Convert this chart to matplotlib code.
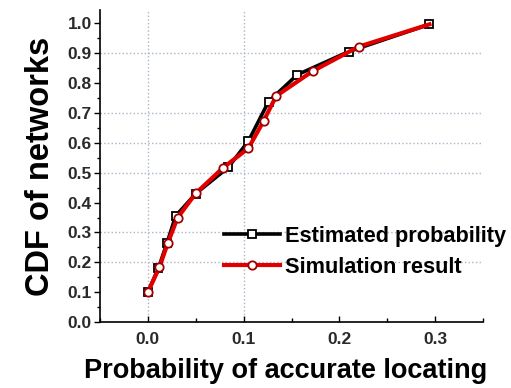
import matplotlib
matplotlib.use("Agg")
import matplotlib.pyplot as plt
from matplotlib.ticker import MultipleLocator

plt.rcParams['font.family'] = ['Liberation Sans', 'DejaVu Sans']

est_x = [0.0, 0.011, 0.020, 0.029, 0.050, 0.084, 0.105, 0.126, 0.156, 0.210, 0.294]
est_y = [0.10, 0.18, 0.265, 0.355, 0.43, 0.518, 0.606, 0.738, 0.828, 0.906, 0.997]

sim_x = [0.0, 0.012, 0.021, 0.031, 0.050, 0.078, 0.105, 0.121, 0.134, 0.172, 0.220, 0.294]
sim_y = [0.10, 0.183, 0.266, 0.349, 0.431, 0.515, 0.582, 0.674, 0.757, 0.840, 0.922, 0.997]

xticks = [0.0, 0.1, 0.2, 0.3]
yticks = [0.0, 0.1, 0.2, 0.3, 0.4, 0.5, 0.6, 0.7, 0.8, 0.9, 1.0]
hgrid = [0.2, 0.3, 0.5, 0.6, 0.7, 0.9]
vgrid = [0.0, 0.1]

fig = plt.figure(figsize=(5.11, 3.88), dpi=100)
ax = fig.add_axes([100/511, 66/388, 383/511, 312/388])

for g in hgrid:
    ax.axhline(g, color='#a9b4c8', ls=':', lw=1.0, zorder=0)
for g in vgrid:
    ax.axvline(g, color='#a9b4c8', ls=':', lw=1.0, zorder=0)

ax.plot(est_x, est_y, color='black', lw=2.6, marker='s', ms=6,
        mfc='white', mec='black', mew=1.3, label='Estimated probability', zorder=2)
ax.plot(sim_x, sim_y, color='#e00000', lw=3.0, marker='o', ms=6,
        mfc='white', mec='#a00000', mew=1.3, markevery=list(range(len(sim_x) - 1)),
        label='Simulation result', zorder=3)

ax.set_xlim(-0.05, 0.35)
ax.set_ylim(0.0, 1.045)
ax.set_xticks(xticks)
ax.set_yticks(yticks)
ax.set_xticklabels([f"{v:.1f}" for v in xticks])
ax.set_yticklabels([f"{v:.1f}" for v in yticks])
ax.xaxis.set_minor_locator(MultipleLocator(0.05))
ax.yaxis.set_minor_locator(MultipleLocator(0.05))
ax.tick_params(axis='both', which='major', direction='out', length=4, width=1,
               labelsize=12.5, pad=2)
ax.tick_params(axis='x', which='major', direction='in', length=4, pad=7)
ax.tick_params(axis='x', which='minor', direction='in', length=3, width=1)
ax.tick_params(axis='y', which='minor', direction='out', length=2.5, width=1)
for lab in ax.get_xticklabels() + ax.get_yticklabels():
    lab.set_fontweight('bold')
    lab.set_color('#2a2a2a')

ax.spines['top'].set_visible(False)
ax.spines['right'].set_visible(False)
ax.spines['left'].set_linewidth(1.2)
ax.spines['bottom'].set_linewidth(1.2)

ax.set_xlabel('Probability of accurate locating', fontsize=19.5, fontweight='bold', labelpad=6)
ax.xaxis.set_label_coords(0.485, -0.115)
ax.set_ylabel('CDF of networks', fontsize=23.5, fontweight='bold', labelpad=8)

leg = ax.legend(loc='lower left', bbox_to_anchor=(0.30, 0.114), frameon=False,
                fontsize=15.7, handlelength=2.6, handletextpad=0.2,
                labelspacing=0.45, borderaxespad=0)
for t in leg.get_texts():
    t.set_fontweight('bold')

fig.savefig('out.png', dpi=100)
